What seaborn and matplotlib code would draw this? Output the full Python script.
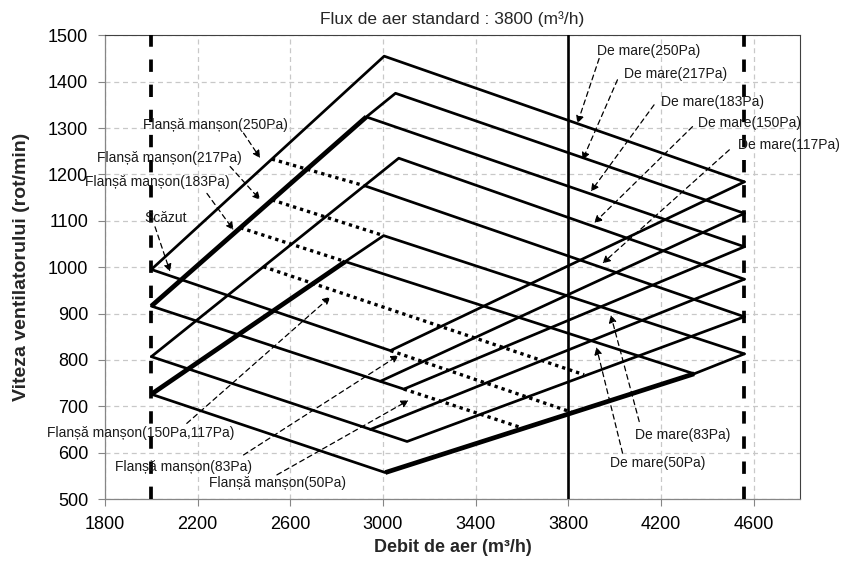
import matplotlib
matplotlib.use("Agg")
import matplotlib.pyplot as plt
import seaborn as sns

sns.set_theme(style="ticks")
plt.rcParams['font.family'] = ['Liberation Sans', 'DejaVu Sans']

# ---------------- data (airflow m3/h, fan speed rpm) ----------------
x_ticks = [1800, 2200, 2600, 3000, 3400, 3800, 4200, 4600]
y_ticks = [500, 600, 700, 800, 900, 1000, 1100, 1200, 1300, 1400, 1500]
min_flow = 2000
max_flow = 4560
std_flow = 3800

# upper (high speed) polylines
up_250_x = [2000, 3005, 4560]; up_250_y = [995, 1455, 1184]
up_217_x = [2928, 3054, 4560]; up_217_y = [1324, 1375, 1116]
up_183_x = [2928, 4560];       up_183_y = [1324, 1044]
up_150_x = [2000, 3068, 4560]; up_150_y = [807, 1235, 974]
up_117_x = [2924, 4560];       up_117_y = [1175, 893]
up_83_x = [2837, 3003, 4560];  up_83_y = [1012, 1068, 813]
up_50_x = [2837, 4343];        up_50_y = [1012, 770]

# lower polylines
low_1_x = [2000, 3032, 4560];  low_1_y = [995, 820, 1184]
low_2_x = [2000, 3090, 4560];  low_2_y = [916, 737, 1044]
low_2b_x = [2989, 4560];       low_2b_y = [754, 1116]
low_3_x = [2000, 3104, 4560];  low_3_y = [807, 624, 893]
low_3b_x = [2946, 4560];       low_3b_y = [650, 974]
low_4_x = [2000, 3010];        low_4_y = [726, 557]
low_4b_x = [4343, 4560];       low_4b_y = [770, 813]

# overlapping (thick) segments
thick_1_x = [2000, 2928]; thick_1_y = [916, 1324]
thick_2_x = [2000, 2837]; thick_2_y = [726, 1012]
thick_3_x = [3010, 4343]; thick_3_y = [557, 770]

# dotted flange lines
fl_250_x = [2520, 2924]; fl_250_y = [1233, 1175]
fl_217_x = [2521, 3003]; fl_217_y = [1145, 1068]
fl_183_x = [2384, 2837]; fl_183_y = [1085, 1012]
fl_150_x = [2483, 3868]; fl_150_y = [1001, 768]
fl_83_x = [3032, 3815];  fl_83_y = [820, 687]
fl_50_x = [3090, 3590];  fl_50_y = [737, 655]

# annotations: label, text centre, arrow start, arrow tip
ann_labels = ["Flanșă manșon(250Pa)", "Flanșă manșon(217Pa)", "Flanșă manșon(183Pa)",
              "Scăzut", "Flanșă manșon(150Pa,117Pa)", "Flanșă manșon(83Pa)",
              "Flanșă manșon(50Pa)", "De mare(250Pa)", "De mare(217Pa)",
              "De mare(183Pa)", "De mare(150Pa)", "De mare(117Pa)",
              "De mare(83Pa)", "De mare(50Pa)"]
ann_text = [(2278, 1307), (2077, 1235), (2027, 1184), (2062, 1105), (1954, 642),
            (2138, 570), (2544, 534), (4145, 1467), (4261, 1416), (4423, 1357),
            (4584, 1310), (4753, 1263), (4293, 638), (4185, 577)]
ann_start = [(2398, 1289), (2340, 1217), (2240, 1159), (2016, 1087), (2153, 663),
             (2398, 595), (2542, 552), (3933, 1450), (4012, 1404), (4170, 1350),
             (4336, 1303), (4495, 1253), (4106, 667), (4034, 599)]
ann_tip = [(2470, 1235), (2470, 1145), (2355, 1080), (2081, 990), (2773, 936),
           (3068, 810), (3111, 713), (3839, 1310), (3861, 1231), (3897, 1163),
           (3911, 1095), (3947, 1008), (3983, 897), (3921, 828)]

title = "Flux de aer standard : 3800 (m³/h)"
x_label = "Debit de aer (m³/h)"
y_label = "Viteza ventilatorului (rot/min)"

# ---------------- drawing ----------------
fig = plt.figure(figsize=(8.43, 5.76), dpi=100)
ax = fig.add_axes([105 / 843, 77 / 576, 695 / 843, 463.7 / 576])

LW = 1.95
thin = [(up_250_x, up_250_y), (up_217_x, up_217_y), (up_183_x, up_183_y),
        (up_150_x, up_150_y), (up_117_x, up_117_y), (up_83_x, up_83_y),
        (up_50_x, up_50_y), (low_1_x, low_1_y), (low_2_x, low_2_y),
        (low_2b_x, low_2b_y), (low_3_x, low_3_y), (low_3b_x, low_3b_y),
        (low_4_x, low_4_y), (low_4b_x, low_4b_y)]
for xs, ys in thin:
    sns.lineplot(x=xs, y=ys, sort=False, estimator=None, color="black",
                 lw=LW, ax=ax, zorder=3)
for xs, ys in [(thick_1_x, thick_1_y), (thick_2_x, thick_2_y), (thick_3_x, thick_3_y)]:
    sns.lineplot(x=xs, y=ys, sort=False, estimator=None, color="black",
                 lw=3.4, ax=ax, zorder=3, solid_capstyle="butt")
for xs, ys in [(fl_250_x, fl_250_y), (fl_217_x, fl_217_y), (fl_183_x, fl_183_y),
               (fl_150_x, fl_150_y), (fl_83_x, fl_83_y), (fl_50_x, fl_50_y)]:
    sns.lineplot(x=xs, y=ys, sort=False, estimator=None, color="black",
                 lw=2.4, ax=ax, zorder=3, linestyle=(0, (1, 1.2)))

ax.axvline(min_flow, color="black", lw=2.7, linestyle=(0, (3.3, 3.4)), zorder=3)
ax.axvline(max_flow, color="black", lw=2.7, linestyle=(0, (3.3, 3.4)), zorder=3)
ax.axvline(std_flow, color="black", lw=1.9, zorder=3)

for lab, t, s, p in zip(ann_labels, ann_text, ann_start, ann_tip):
    ax.annotate("", xy=p, xytext=s,
                arrowprops=dict(arrowstyle="-|>", color="black", lw=0.9,
                                linestyle=(0, (4, 3)), mutation_scale=11,
                                shrinkA=0, shrinkB=0), zorder=4)
    ax.text(t[0], t[1], lab, ha="center", va="center", fontsize=10,
            color="#1a1a1a", clip_on=False, zorder=5)

ax.set_xlim(1800, 4800)
ax.set_ylim(500, 1500)
ax.set_xticks(x_ticks)
ax.set_yticks(y_ticks)
ax.grid(True, color="#c8c8c8", linestyle=(0, (4, 3)), lw=0.9)
ax.set_axisbelow(True)
ax.tick_params(direction="out", length=5, width=0.8, color="#868686",
               labelsize=13, pad=7, labelcolor="black")
for side in ["left", "bottom"]:
    ax.spines[side].set_color("#868686")
    ax.spines[side].set_linewidth(0.9)
for side in ["top", "right"]:
    ax.spines[side].set_color("#404040")
    ax.spines[side].set_linewidth(0.8)

ax.set_xlabel(x_label, fontsize=13, fontweight="bold")
ax.set_ylabel(y_label, fontsize=14, fontweight="bold")
ax.xaxis.label.set_va("center")
ax.yaxis.label.set_va("center")
ax.xaxis.set_label_coords(0.5, (499 - 548) / 463.7)
ax.yaxis.set_label_coords((22 - 105) / 695, 0.5)
fig.text(452.5 / 843, 1 - 19 / 576, title, ha="center", va="center", fontsize=12.5)

fig.savefig("out.png", dpi=100)
